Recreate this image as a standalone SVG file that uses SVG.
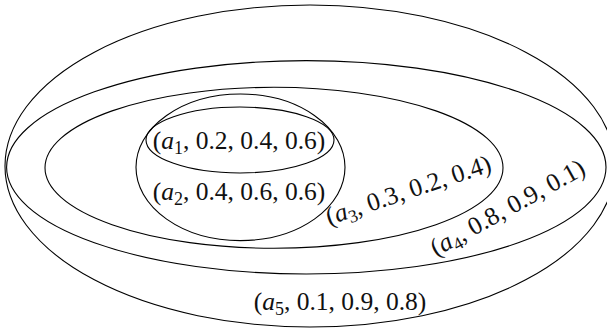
<svg xmlns="http://www.w3.org/2000/svg" width="607" height="329" viewBox="0 0 607 329">
<style>
.set{fill:none;stroke:#000;stroke-width:1.1}
.lbl{font-family:"Liberation Serif","Times New Roman",serif;font-size:25.5px;fill:#111;text-anchor:middle}
.it{font-style:italic}
.sub{font-size:18px}
</style>
<rect width="607" height="329" fill="#fff"/>
<g id="a5"><ellipse class="set" cx="310" cy="166" rx="305" ry="161"/>
<text class="lbl" x="340" y="310">(<tspan class="it">a</tspan><tspan class="sub" dy="5">5</tspan><tspan dy="-5">, 0.1, 0.9, 0.8)</tspan></text></g>
<g id="a4"><ellipse class="set" cx="306.3" cy="167.3" rx="299.7" ry="106.7"/>
<text class="lbl" transform="translate(511.5 215) rotate(-29)">(<tspan class="it">a</tspan><tspan class="sub" dy="5">4</tspan><tspan dy="-5">, 0.8, 0.9, 0.1)</tspan></text></g>
<g id="a3"><ellipse class="set" cx="274" cy="167.8" rx="229" ry="80.5"/>
<text class="lbl" transform="translate(411 198) rotate(-18.4)">(<tspan class="it">a</tspan><tspan class="sub" dy="5">3</tspan><tspan dy="-5">, 0.3, 0.2, 0.4)</tspan></text></g>
<g id="a2"><ellipse class="set" cx="240.5" cy="167.3" rx="104.5" ry="73.3"/>
<text class="lbl" x="239" y="200">(<tspan class="it">a</tspan><tspan class="sub" dy="5">2</tspan><tspan dy="-5">, 0.4, 0.6, 0.6)</tspan></text></g>
<g id="a1"><ellipse class="set" cx="240" cy="140" rx="94" ry="33"/>
<text class="lbl" x="239" y="149">(<tspan class="it">a</tspan><tspan class="sub" dy="5">1</tspan><tspan dy="-5">, 0.2, 0.4, 0.6)</tspan></text></g>
<g id="connectors"/>
</svg>
